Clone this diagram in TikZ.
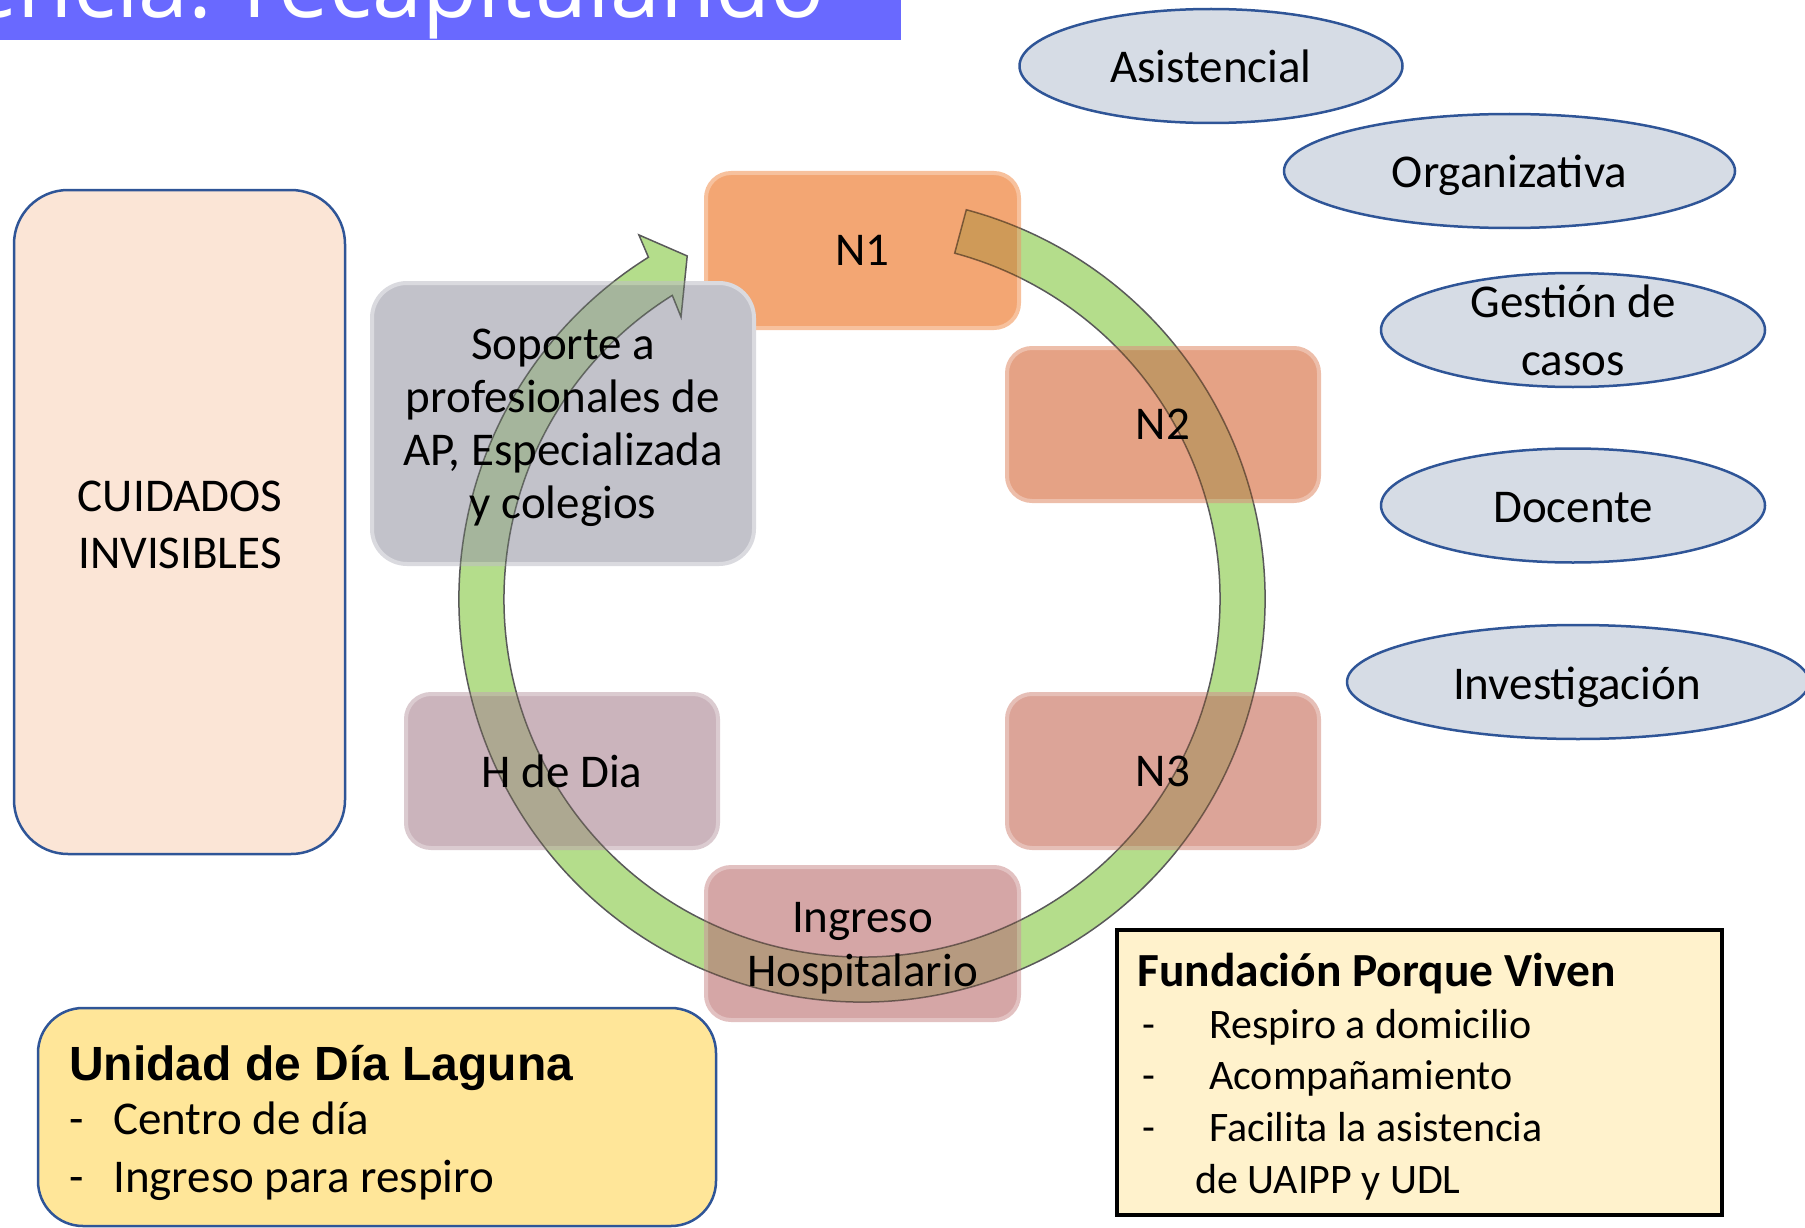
\documentclass[tikz,border=0pt]{standalone}
\usepackage{fontspec}
\setmainfont{Carlito}
\newfontfamily\titlefont{Open Sans}
\newfontfamily\arialfont{Liberation Sans}
\usetikzlibrary{shapes.geometric}
\definecolor{titleblue}{HTML}{6969FF}
\definecolor{darkblue}{HTML}{2F5597}
\definecolor{peach}{HTML}{FBE5D6}
\definecolor{ovalfill}{HTML}{D6DCE5}
\definecolor{yellowA}{HTML}{FFE699}
\definecolor{yellowB}{HTML}{FFF2CC}
\definecolor{cNone}{HTML}{F3A673}
\definecolor{cNtwo}{HTML}{E5A285}
\definecolor{cNthree}{HTML}{DCA498}
\definecolor{cIH}{HTML}{D5A6A6}
\definecolor{cHD}{HTML}{CBB4BC}
\definecolor{cSP}{HTML}{C2C2CA}
\definecolor{arrowgreen}{HTML}{B4DD8B}
\definecolor{arrowmul}{HTML}{DAEEC5}
\newcommand\myfs[2]{\fontsize{#1}{#2}\selectfont}
\begin{document}
\begin{tikzpicture}[x=1pt,y=-1pt,
  cbox/.style={rectangle, rounded corners=25pt, inner sep=0pt, minimum width=312pt, minimum height=154pt,
    align=center, font=\myfs{47}{54}, line width=4pt},
  boxtext/.style={align=center, inner sep=0pt, font=\myfs{47}{54}},
  oval/.style={ellipse, draw=darkblue, fill=ovalfill, line width=2.5pt, inner sep=0pt, minimum height=114pt},
  ovaltext/.style={align=center, font=\myfs{47}{58}, inner sep=0pt},
  itemtext/.style={anchor=base west, inner sep=0pt, font=\myfs{42}{50}},
  uitem/.style={anchor=base west, inner sep=0pt, font=\myfs{47}{56}},
  cyclepath/.style={insert path={(75:403) arc[start angle=75,end angle=-238,radius=403]
     -- (-238.5:427) -- (-243:385) -- (-237.3:335) -- (-238:358)
     arc[start angle=-238,end angle=75,radius=358] -- cycle}}
]
\useasboundingbox (0,0) rectangle (1805,1228);

% title bar
\node[fill=titleblue, minimum width=901pt, minimum height=40pt, anchor=north west, inner sep=0pt] (titlebar) at (0,0) {};
\begin{scope}
  \clip (0,0) rectangle (901,40);
  \node[anchor=base east, text=white, font=\titlefont\myfs{90}{96}, inner sep=0pt] (title) at (825,18) {encia: recapitulando};
\end{scope}

% left box
\node[draw=darkblue, fill=peach, line width=2.5pt, rounded corners=54pt, minimum width=331pt, minimum height=664pt] (ci) at (179.5,522) {};
\node[align=center, inner sep=0pt, font=\myfs{47}{57}] (cit) at (180,525) {CUIDADOS\\INVISIBLES};

% ellipses
\node[oval, minimum width=383pt] (asis) at (1211,66) {};
\node[ovaltext] (asist) at (asis) {Asistencial};
\node[oval, minimum width=451pt] (orga) at (1509.5,171) {};
\node[ovaltext] (orgat) at (1509.5,175) {Organizativa};
\node[oval, minimum width=384pt] (gest) at (1573,330) {};
\node[ovaltext] (gestt) at (1573,330) {Gestión de\\casos};
\node[oval, minimum width=384pt] (doce) at (1573,505.5) {};
\node[ovaltext] (docet) at (1573,507.5) {Docente};
\node[oval, minimum width=462pt] (inve) at (1578,682) {};
\node[ovaltext] (invet) at (1577,687) {Investigación};

% green cycle arrow (under boxes)
\begin{scope}[shift={(862,599)}, yscale=-1]
  \filldraw[fill=arrowgreen, draw=black!65, line width=1.5pt, cyclepath];
\end{scope}

% boxes on the cycle
\node[cbox, fill=cNone, draw=cNone!70!white, minimum width=313pt, minimum height=155pt] (n1) at (862.5,250.5) {N1};
\node[cbox, fill=cNtwo, draw=cNtwo!70!white, minimum height=153pt] (n2) at (1163,424.5) {N2};
\node[cbox, fill=cNthree, draw=cNthree!70!white] (n3) at (1163,771) {N3};
\node[cbox, fill=cIH, draw=cIH!70!white, minimum width=313pt, minimum height=153pt] (ih) at (862.5,943.5) {};
\node[cbox, fill=cHD, draw=cHD!70!white] (hd) at (562,771) {H de Dia};
\node[cbox, fill=cSP, draw=cSP!60!white, rounded corners=35pt, minimum width=382pt, minimum height=281pt] (sp) at (563,423.5) {};

% arrow seen through the boxes
\begin{scope}[blend mode=multiply]
  \clip[rounded corners=25pt] (n1.north west) rectangle (n1.south east)
     (n2.north west) rectangle (n2.south east)
     (n3.north west) rectangle (n3.south east)
     (ih.north west) rectangle (ih.south east)
     (hd.north west) rectangle (hd.south east)
     (sp.north west) rectangle (sp.south east);
  \begin{scope}[shift={(862,599)}, yscale=-1]
    \filldraw[fill=arrowmul, draw=black!45, line width=1.5pt, cyclepath];
  \end{scope}
\end{scope}

% texts of the boxes
\node[boxtext] (iht) at (862.5,948) {Ingreso\\Hospitalario};
\node[boxtext, font=\myfs{47}{53}] (spt) at (563,428) {Soporte a\\profesionales de\\AP, Especializada\\y colegios};

% Unidad de Dia Laguna
\node[draw=darkblue, fill=yellowA, line width=2.5pt, rounded corners=45pt, minimum width=678pt, minimum height=218pt] (udl) at (377,1117) {};
\node[anchor=base west, inner sep=0pt, font=\arialfont\bfseries\myfs{48}{56}] (udlt) at (69,1080) {Unidad de Día Laguna};
\node[uitem] (udla) at (69,1134) {\makebox[44pt][l]{-}Centro de día};
\node[uitem] (udlb) at (69,1192) {\makebox[44pt][l]{-}Ingreso para respiro};

% Fundacion Porque Viven
\node[draw=black, fill=yellowB, line width=3.5pt, minimum width=605pt, minimum height=285pt, inner sep=0pt] (fpv) at (1419.5,1072.5) {};
\node[anchor=base west, inner sep=0pt, font=\bfseries\myfs{47.5}{54}] (fpvt) at (1137,986) {Fundación Porque Viven};
\node[itemtext] (fpva) at (1142,1038) {\makebox[67pt][l]{-}Respiro a domicilio};
\node[itemtext] (fpvb) at (1142,1089) {\makebox[67pt][l]{-}Acompañamiento};
\node[itemtext] (fpvc) at (1142,1141) {\makebox[67pt][l]{-}Facilita la asistencia};
\node[itemtext] (fpvd) at (1195,1193) {de UAIPP y UDL};
\end{tikzpicture}
\end{document}
